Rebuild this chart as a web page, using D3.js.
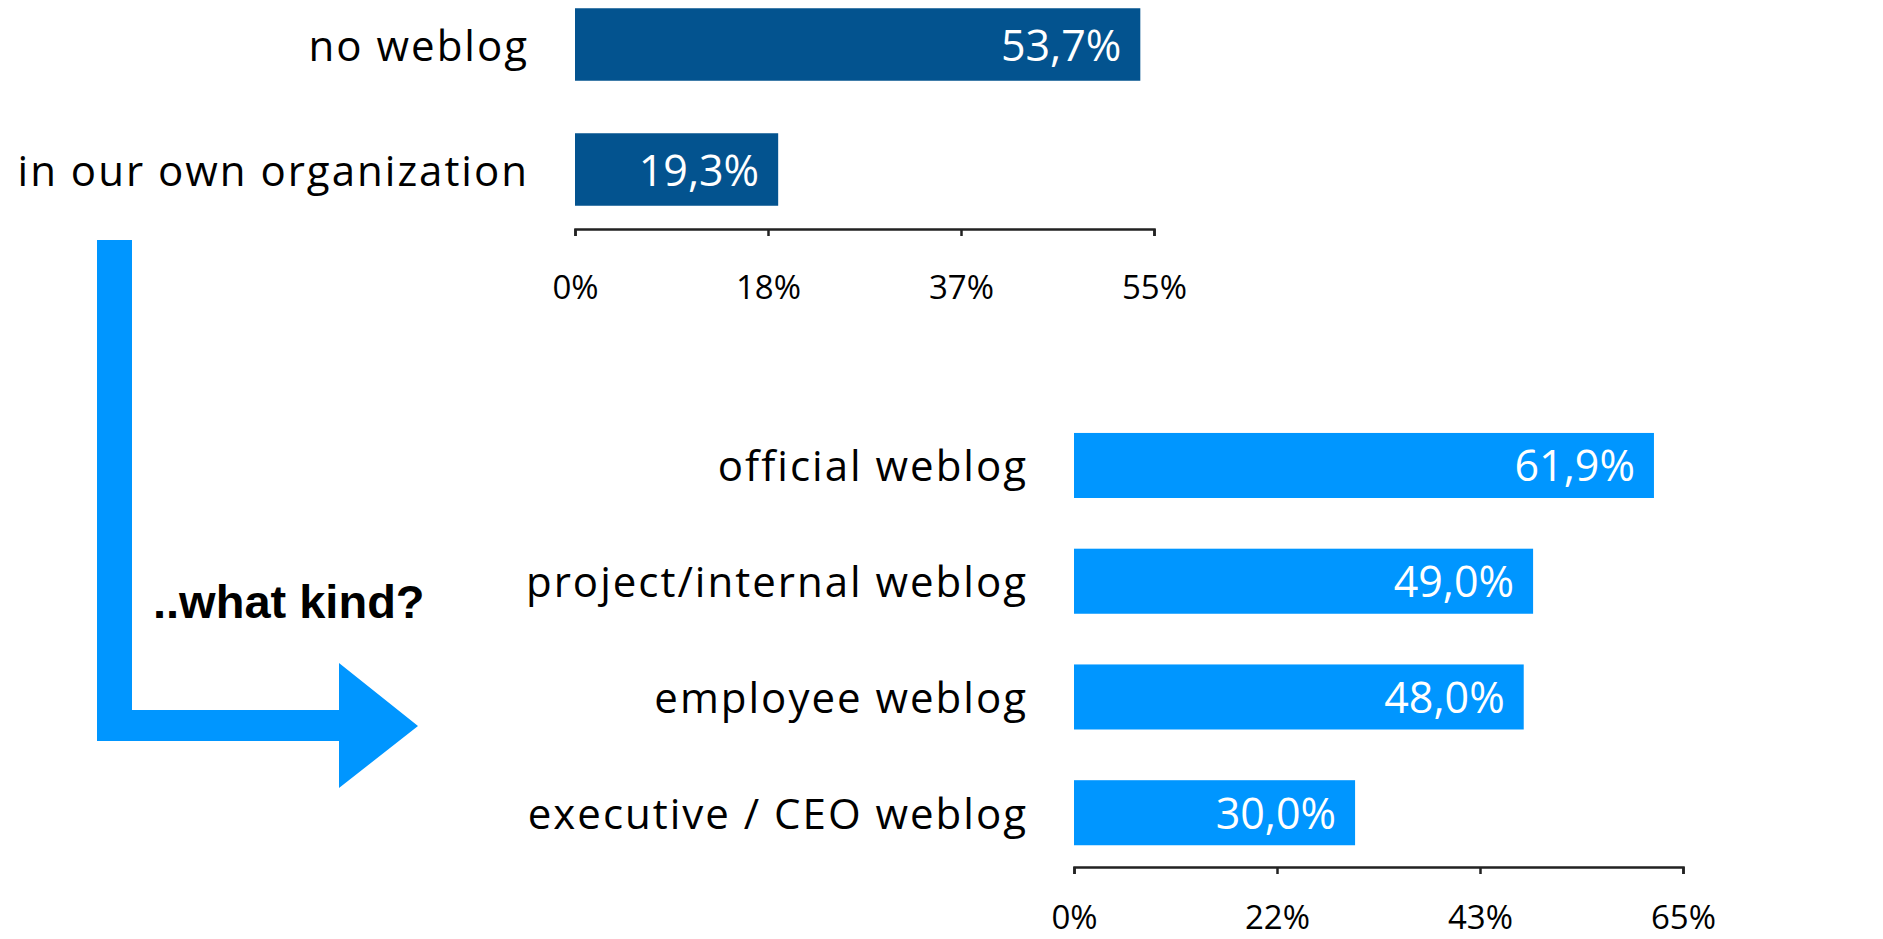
<!DOCTYPE html>
<html>
<head>
<meta charset="utf-8">
<script src="https://cdn.jsdelivr.net/npm/d3@7"></script>
<style>
  body { margin: 0; background: #fff; }
  .cat { font-family: 'Open Sans', sans-serif; font-size: 42px; fill: #000; letter-spacing: 2px; }
  .val { font-family: 'Open Sans', sans-serif; font-size: 43px; fill: #fff; }
  .axis text { font-family: 'Open Sans', sans-serif; font-size: 33px; fill: #000; }
  .axis path, .axis line { stroke: #222; stroke-width: 2.5; }
</style>
</head>
<body>
<div id="chart"></div>
<script>
const topCategories = ['no weblog', 'in our own organization'];
const topValues = [53.7, 19.3];
const topTicks = [0, 55 / 3, 110 / 3, 55];
const topTickLabels = ['0%', '18%', '37%', '55%'];

const bottomCategories = ['official weblog', 'project/internal weblog', 'employee weblog', 'executive / CEO weblog'];
const bottomValues = [61.9, 49.0, 48.0, 30.0];
const bottomTicks = [0, 65 / 3, 130 / 3, 65];
const bottomTickLabels = ['0%', '22%', '43%', '65%'];

const chartWidth = 1883;
const chartHeight = 939;

// comma as decimal mark, like the original
const fmt = d3.formatLocale({ decimal: ',', thousands: '.', grouping: [3], currency: ['', ''] }).format('.1f');

const svg = d3.select('#chart')
    .append('svg')
    .attr('width', chartWidth)
    .attr('height', chartHeight);

function drawPanel(cfg) {
    const data = cfg.categories.map((c, i) => ({ cat: c, val: cfg.values[i] }));

    const xScale = d3.scaleLinear()
        .domain([0, cfg.max])
        .range([cfg.x0, cfg.x1]);

    const yScale = d3.scaleBand()
        .domain(cfg.categories)
        .range([cfg.y0, cfg.y1])
        .paddingInner(cfg.pad)
        .paddingOuter(cfg.pad / 2);

    const g = svg.append('g');

    g.selectAll('rect')
        .data(data)
        .enter()
        .append('rect')
        .attr('x', xScale(0))
        .attr('y', (d) => yScale(d.cat))
        .attr('width', (d) => xScale(d.val) - xScale(0))
        .attr('height', yScale.bandwidth())
        .attr('fill', cfg.color);

    g.selectAll('text.val')
        .data(data)
        .enter()
        .append('text')
        .attr('class', 'val')
        .attr('text-anchor', 'end')
        .attr('x', (d) => xScale(d.val) - 19)
        .attr('y', (d) => yScale(d.cat) + yScale.bandwidth() / 2 + 16)
        .text((d) => fmt(d.val) + '%');

    g.selectAll('text.cat')
        .data(data)
        .enter()
        .append('text')
        .attr('class', 'cat')
        .attr('text-anchor', 'end')
        .attr('x', xScale(0) - 46)
        .attr('y', (d) => yScale(d.cat) + yScale.bandwidth() / 2 + 16)
        .text((d) => d.cat);

    const xAxis = d3.axisBottom(xScale)
        .tickValues(cfg.ticks)
        .tickFormat((d, i) => cfg.tickLabels[i])
        .tickSize(7)
        .tickSizeOuter(7);

    const ax = g.append('g')
        .attr('class', 'axis')
        .attr('transform', `translate(0, ${cfg.axisY})`)
        .call(xAxis);
    ax.selectAll('text').attr('y', cfg.labelY).attr('dy', 0);
}

drawPanel({
    categories: topCategories, values: topValues, max: 55,
    ticks: topTicks, tickLabels: topTickLabels,
    x0: 575, x1: 1154, y0: -18, y1: 232, pad: 0.42,
    axisY: 229, labelY: 70, color: '#03538f'
});

drawPanel({
    categories: bottomCategories, values: bottomValues, max: 65,
    ticks: bottomTicks, tickLabels: bottomTickLabels,
    x0: 1074, x1: 1683, y0: 407.6, y1: 870.6, pad: 0.438,
    axisY: 867, labelY: 62, color: '#0096ff'
});

// the bent arrow linking the two charts
svg.append('path')
    .attr('d', 'M97,240 L132,240 L132,710 L339,710 L339,663 L418,726 L339,788 L339,741 L97,741 Z')
    .attr('fill', '#0096ff');

svg.append('text')
    .attr('x', 153)
    .attr('y', 618)
    .attr('font-family', "'Liberation Sans', Arial, sans-serif")
    .attr('font-weight', 'bold')
    .attr('font-size', 47)
    .attr('fill', '#000')
    .text('..what kind?');
</script>
</body>
</html>
